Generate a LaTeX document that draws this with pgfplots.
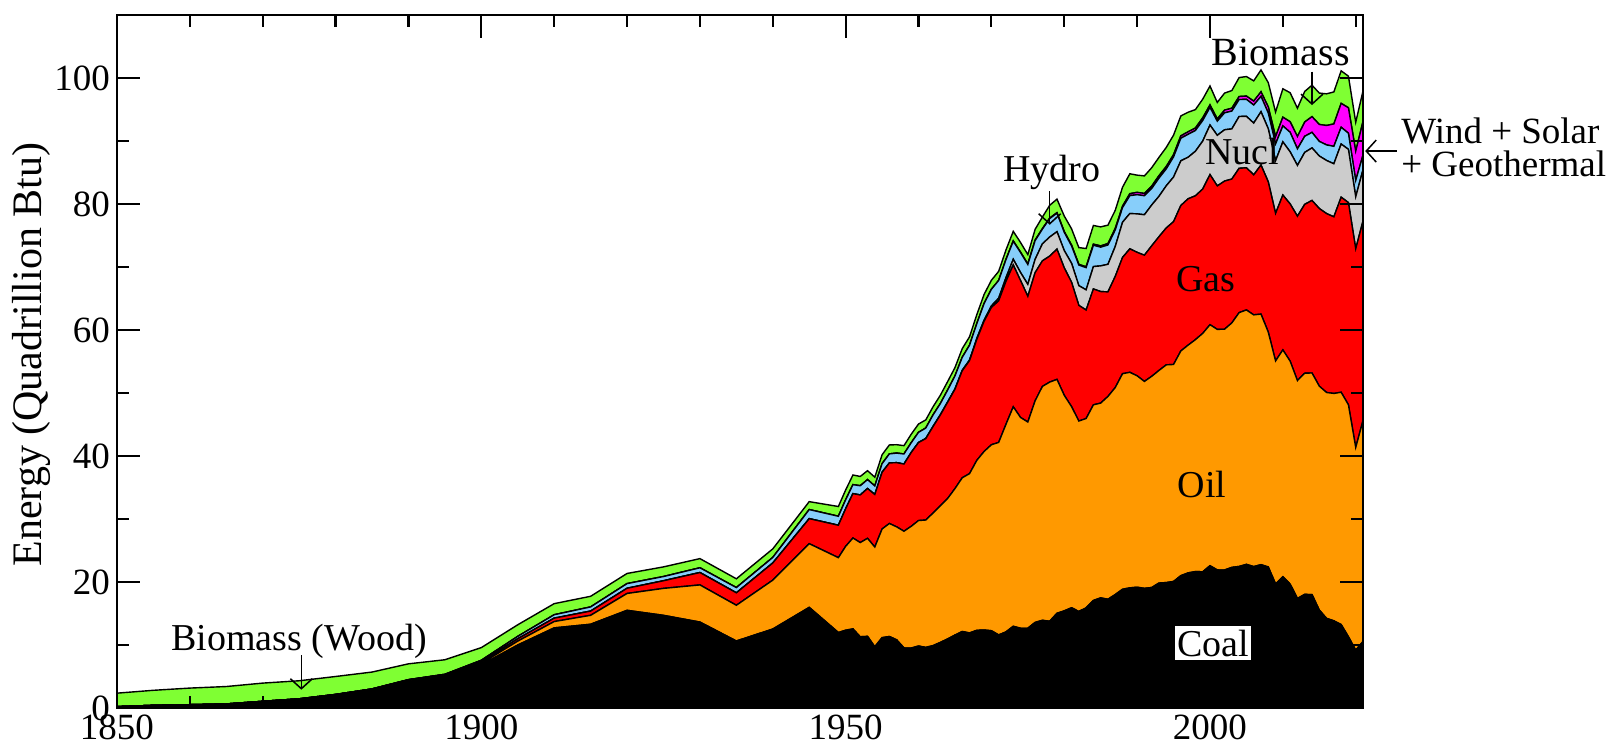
\documentclass[border=0pt]{standalone}
\usepackage{pgfplots}
\pgfplotsset{compat=1.18}
\usepackage{pgfplotstable}
\usepackage{fontspec}
\setmainfont{Liberation Serif}
\usetikzlibrary{arrows.meta}

\definecolor{oilc}{RGB}{255,153,0}
\definecolor{gasc}{RGB}{255,0,0}
\definecolor{nucc}{RGB}{204,204,204}
\definecolor{hydc}{RGB}{135,206,250}
\definecolor{wsgc}{RGB}{255,0,255}
\definecolor{bioc}{RGB}{127,255,51}

% US primary energy consumption by source (quadrillion Btu)
\pgfplotstableread{
year coal oil gas nuc hydro wsg bio
1850 0.219 0 0 0 0 0 2.138
1855 0.421 0 0 0 0 0 2.389
1860 0.518 0.003 0 0 0 0 2.641
1865 0.632 0.010 0 0 0 0 2.767
1870 1.048 0.011 0 0 0 0 2.893
1875 1.440 0.011 0 0 0 0 2.872
1880 2.054 0.096 0 0 0 0 2.851
1885 2.840 0.040 0.143 0 0 0 2.683
1890 4.062 0.156 0.257 0 0.022 0 2.515
1895 4.950 0.168 0.147 0 0.085 0 2.306
1900 6.841 0.229 0.252 0 0.250 0 2.015
1905 10.001 0.610 0.372 0 0.386 0 1.843
1910 12.714 1.007 0.540 0 0.539 0 1.765
1915 13.294 1.418 0.673 0 0.659 0 1.688
1920 15.504 2.676 0.827 0 0.738 0 1.610
1925 14.706 4.280 1.212 0 0.668 0 1.533
1930 13.639 5.897 1.969 0 0.752 0 1.455
1935 10.634 5.675 1.974 0 0.831 0 1.397
1940 12.535 7.760 2.726 0 0.880 0 1.358
1945 15.972 10.110 3.973 0 1.442 0 1.261
1949 11.981 11.883 5.145 0 1.425 0 1.549
1950 12.347 13.315 5.968 0 1.415 0 1.562
1951 12.553 14.428 7.049 0 1.424 0 1.535
1952 11.306 14.956 7.550 0 1.466 0 1.474
1953 11.373 15.556 7.907 0 1.413 0 1.419
1954 9.715 15.839 8.330 0 1.360 0 1.394
1955 11.167 17.255 8.998 0 1.360 0 1.424
1956 11.350 17.937 9.614 0 1.435 0 1.416
1957 10.821 17.932 10.191 0 1.516 0 1.334
1958 9.533 18.527 10.663 0.002 1.592 0 1.323
1959 9.518 19.323 11.717 0.002 1.548 0 1.353
1960 9.838 19.919 12.385 0.006 1.608 0.001 1.320
1961 9.623 20.216 12.926 0.020 1.656 0.002 1.295
1962 9.906 21.049 13.731 0.026 1.816 0.002 1.300
1963 10.413 21.701 14.403 0.038 1.771 0.004 1.323
1964 10.964 22.301 15.288 0.040 1.886 0.005 1.337
1965 11.581 23.246 15.769 0.043 2.059 0.004 1.335
1966 12.143 24.402 16.995 0.064 2.062 0.004 1.369
1967 11.914 25.284 17.945 0.088 2.347 0.007 1.340
1968 12.331 26.979 19.210 0.142 2.349 0.009 1.419
1969 12.382 28.338 20.678 0.154 2.648 0.013 1.440
1970 12.265 29.521 21.795 0.239 2.634 0.011 1.431
1971 11.598 30.561 22.469 0.413 2.824 0.012 1.432
1972 12.077 32.947 22.698 0.584 2.864 0.031 1.503
1973 12.971 34.837 22.512 0.910 2.861 0.043 1.529
1974 12.663 33.455 21.732 1.272 3.177 0.053 1.540
1975 12.663 32.732 19.948 1.900 3.155 0.070 1.499
1976 13.584 35.175 20.345 2.111 2.976 0.078 1.713
1977 13.922 37.122 19.931 2.702 2.333 0.077 1.838
1978 13.766 37.965 20.000 3.024 2.937 0.064 2.038
1979 15.040 37.123 20.666 2.776 2.931 0.084 2.152
1980 15.423 34.205 20.235 2.739 2.900 0.110 2.476
1981 15.908 31.931 19.747 3.008 2.758 0.123 2.596
1982 15.322 30.232 18.356 3.131 3.266 0.105 2.664
1983 15.894 30.054 17.221 3.203 3.527 0.129 2.904
1984 17.071 31.051 18.394 3.553 3.386 0.165 2.971
1985 17.478 30.922 17.703 4.076 2.970 0.198 3.016
1986 17.260 32.196 16.591 4.380 3.071 0.219 2.932
1987 18.008 32.865 17.640 4.754 2.635 0.229 2.875
1988 18.846 34.222 18.448 5.587 2.334 0.217 3.016
1989 19.070 34.211 19.602 5.602 2.837 0.317 3.160
1990 19.173 33.552 19.603 6.104 3.046 0.366 2.735
1991 18.992 32.846 20.033 6.422 3.016 0.369 2.782
1992 19.122 33.525 20.714 6.479 2.617 0.371 2.932
1993 19.835 33.745 21.229 6.410 2.892 0.386 2.908
1994 19.909 34.561 21.728 6.694 2.683 0.380 3.028
1995 20.089 34.438 22.671 7.075 3.205 0.353 3.101
1996 21.002 35.675 23.085 7.087 3.590 0.383 3.157
1997 21.445 36.159 23.223 6.597 3.640 0.397 3.105
1998 21.656 36.816 22.830 7.068 3.297 0.390 2.927
1999 21.623 37.838 22.909 7.610 3.268 0.424 2.963
2000 22.580 38.262 23.824 7.862 2.811 0.385 3.006
2001 21.914 38.186 22.773 8.029 2.242 0.351 2.624
2002 21.904 38.224 23.510 8.145 2.689 0.427 2.705
2003 22.321 38.811 22.831 7.959 2.825 0.457 2.805
2004 22.466 40.292 22.909 8.222 2.690 0.481 3.010
2005 22.797 40.388 22.565 8.161 2.703 0.511 3.104
2006 22.447 39.955 22.224 8.215 2.869 0.619 3.216
2007 22.749 39.774 23.663 8.459 2.446 0.717 3.474
2008 22.385 37.280 23.843 8.426 2.511 0.956 3.849
2009 19.692 35.403 23.416 8.356 2.669 1.154 3.918
2010 20.834 36.010 24.575 8.434 2.539 1.388 4.505
2011 19.658 35.397 24.955 8.269 3.103 1.671 4.611
2012 17.378 34.594 26.089 8.062 2.629 1.952 4.502
2013 18.039 35.101 26.805 8.244 2.562 2.265 4.849
2014 17.998 35.181 27.383 8.338 2.467 2.496 4.995
2015 15.549 35.539 28.191 8.337 2.321 2.687 4.983
2016 14.226 35.853 28.400 8.427 2.472 3.088 5.020
2017 13.837 36.093 28.034 8.419 2.767 3.556 5.082
2018 13.241 36.876 30.964 8.438 2.663 3.785 5.167
2019 11.306 36.814 32.098 8.452 2.564 4.042 5.014
2020 9.180 32.174 31.539 8.251 2.591 4.650 4.594
2021 10.547 35.072 31.684 8.131 2.333 5.340 4.835
}\energy

\begin{document}
\begin{tikzpicture}[
    lbl/.style={font=\fontsize{19}{19}\selectfont},
    arr/.style={-{Straight Barb[length=5pt,width=11pt]}, line width=0.75pt},
]
\useasboundingbox (-58.5pt,-20.5pt) rectangle (746.5pt,354pt);
\begin{axis}[
    scale only axis,
    width=623pt, height=346.5pt,
    xmin=1850, xmax=2021,
    ymin=0, ymax=110,
    xtick={1850,1900,1950,2000},
    minor xtick={1860,1870,1880,1890,1910,1920,1930,1940,1960,1970,1980,1990,2010,2020},
    ytick={0,20,40,60,80,100},
    minor ytick={10,30,50,70,90},
    tick align=inside,
    major tick length=11.5pt,
    minor tick length=6pt,
    axis line style={line width=1.3pt},
    every tick/.style={black, line width=1.1pt},
    /pgf/number format/assume math mode=true,
    x tick label style={/pgf/number format/1000 sep={}},
    tick label style={font=\fontsize{18.5}{18.5}\selectfont},
    ylabel={Energy (Quadrillion Btu)},
    ylabel style={font=\fontsize{21}{21}\selectfont, at={(ticklabel cs:0.51)}},
    ylabel shift=-5pt,
    stack plots=y,
    axis on top,
    clip=false,
]
\addplot [draw=black, line width=0.7pt, fill=black] table [x=year, y=coal] {\energy} \closedcycle;
\addplot [draw=black, line width=0.7pt, fill=oilc] table [x=year, y=oil] {\energy} \closedcycle;
\addplot [draw=black, line width=0.7pt, fill=gasc] table [x=year, y=gas] {\energy} \closedcycle;
\addplot [draw=black, line width=0.7pt, fill=nucc] table [x=year, y=nuc] {\energy} \closedcycle;
\addplot [draw=black, line width=0.7pt, fill=hydc] table [x=year, y=hydro] {\energy} \closedcycle;
\addplot [draw=black, line width=0.7pt, fill=wsgc] table [x=year, y=wsg] {\energy} \closedcycle;
\addplot [draw=black, line width=0.7pt, fill=bioc] table [x=year, y=bio] {\energy} \closedcycle;

% anchor points for the labels, drawn after the axis so they sit on top
\coordinate (wood) at (axis cs:1875,10.5);
\coordinate (woodA) at (axis cs:1875.3,8.4);
\coordinate (woodB) at (axis cs:1875.3,2.9);
\coordinate (hyd) at (axis cs:1978.3,85);
\coordinate (hydA) at (axis cs:1978,82);
\coordinate (hydB) at (axis cs:1978,76.7);
\coordinate (bio) at (axis cs:2009.7,104);
\coordinate (bioA) at (axis cs:2014,101);
\coordinate (bioB) at (axis cs:2014,95.7);
\coordinate (nuc) at (axis cs:2004.4,88.3);
\coordinate (gas) at (axis cs:1999.4,68);
\coordinate (oil) at (axis cs:1998.9,35.5);
\coordinate (coal) at (axis cs:2000.4,10.3);
\coordinate (wsgA) at (axis cs:2025.6,88.4);
\coordinate (wsgB) at (axis cs:2021.3,88.4);
\coordinate (wsg) at (axis cs:2026.2,89);
\end{axis}

\node [lbl] at (wood) {Biomass (Wood)};
\draw [arr] (woodA) -- (woodB);
\node [lbl] at (hyd) {Hydro};
\draw [arr] (hydA) -- (hydB);
\node [lbl, font=\fontsize{20}{20}\selectfont] at (bio) {Biomass};
\draw [arr] (bioA) -- (bioB);
\node [lbl] at (nuc) {Nucl};
\node [lbl] at (gas) {Gas};
\node [lbl] at (oil) {Oil};
\node [lbl, fill=white, inner xsep=1pt, inner ysep=2pt] at (coal) {Coal};
\draw [arr] (wsgA) -- (wsgB);
\node [font=\fontsize{18.5}{16.5}\selectfont, anchor=west, align=left, inner sep=0pt] at (wsg) {Wind + Solar\\+ Geothermal};
\end{tikzpicture}
\end{document}
